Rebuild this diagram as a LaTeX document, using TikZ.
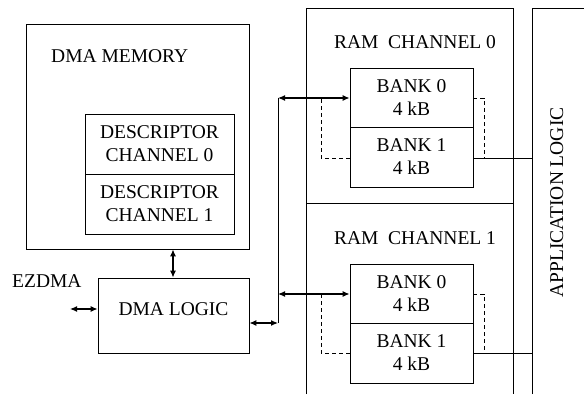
\documentclass[tikz,border=0pt]{standalone}
\usepackage{fontspec}
\setmainfont{Liberation Serif}
\usetikzlibrary{arrows.meta}
\begin{document}
\begin{tikzpicture}[x=1pt,y=-1pt,
  box/.style={draw, line width=0.8pt, inner sep=0pt, align=center},
  lbl/.style={font=\fontsize{19.5}{23}\selectfont, inner sep=0pt},
  wire/.style={line width=0.8pt},
  dwire/.style={line width=0.8pt, dashed, dash pattern=on 4pt off 3pt},
  biarrow/.style={line width=1.2pt, {Latex[length=7pt,width=6pt]}-{Latex[length=7pt,width=6pt]}},
  every node/.style={font=\fontsize{19.5}{23}\selectfont}]
\useasboundingbox (0,0) rectangle (584,394);
% DMA memory
\node[box, minimum width=223pt, minimum height=225pt] (mem) at (137.5,136.5) {};
\node[lbl, anchor=base west] (memlbl) at (51,62.5) {DMA MEMORY};
\node[box, minimum width=149pt, minimum height=60pt] (desc0) at (159.5,144) {DESCRIPTOR\\CHANNEL 0};
\node[box, minimum width=149pt, minimum height=60pt] (desc1) at (159.5,204) {DESCRIPTOR\\CHANNEL 1};
% DMA logic
\node[box, minimum width=151pt, minimum height=75pt] (logic) at (173.5,315.5) {};
\node[lbl, anchor=base] (logiclbl) at (173.5,315) {DMA LOGIC};
\node[lbl, anchor=base west] (ez) at (12,287) {EZDMA};
\coordinate (ezend) at (70,309);
\draw[biarrow] (ezend) -- (logic.west |- ezend);
\draw[biarrow] (mem.south -| 173,0) -- (logic.north -| 173,0);
% bus
\coordinate (jb) at (278,323);
\coordinate (j0) at (278,98);
\coordinate (j1) at (278,294);
\draw[biarrow] (logic.east |- jb) -- (jb);
\draw[wire] (jb) -- (j0);
% RAM channels frame
\draw[wire] (306,394) -- (306,8) -- (513,8) -- (513,394);
\draw[wire] (306,203) -- (513,203);
\node[lbl, anchor=base] (ram0) at (415,48) {RAM\ \ CHANNEL 0};
\node[lbl, anchor=base] (ram1) at (415,244) {RAM\ \ CHANNEL 1};
% application logic
\draw[wire] (532,394) -- (532,8) -- (584,8);
\node[lbl, rotate=90, anchor=base] (app) at (563,202.5) {APPLICATION LOGIC};
% banks channel 0
\node[box, minimum width=123pt, minimum height=59pt] (b00) at (411.5,97.5) {BANK 0\\4 kB};
\node[box, minimum width=123pt, minimum height=60pt] (b01) at (411.5,157) {BANK 1\\4 kB};
% banks channel 1
\node[box, minimum width=123pt, minimum height=59pt] (b10) at (411.5,293.5) {BANK 0\\4 kB};
\node[box, minimum width=123pt, minimum height=60pt] (b11) at (411.5,353) {BANK 1\\4 kB};
% connections channel 0
\draw[biarrow] (j0) -- (b00.west |- j0);
\coordinate (l0) at (321,158);
\draw[dwire] (b01.west |- l0) -- (l0) -- (321,98);
\coordinate (r0) at (484,98);
\draw[dwire] (b00.east |- r0) -- (r0) -- (484,158);
\draw[wire] (b01.east |- l0) -- (532,158);
% connections channel 1
\draw[biarrow] (j1) -- (b10.west |- j1);
\coordinate (l1) at (321,353);
\draw[dwire] (b11.west |- l1) -- (l1) -- (321,294);
\coordinate (r1) at (484,294);
\draw[dwire] (b10.east |- r1) -- (r1) -- (484,353);
\draw[wire] (b11.east |- l1) -- (532,353);
\end{tikzpicture}
\end{document}
